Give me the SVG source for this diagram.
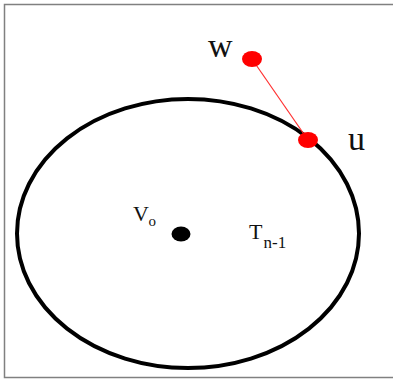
<svg xmlns="http://www.w3.org/2000/svg" width="393" height="379" viewBox="0 0 393 379">
<style>
.lbl{font-family:"Liberation Serif","Times New Roman",serif;fill:#111}
.red{fill:#ff0000}
</style>
<rect x="0" y="0" width="393" height="379" fill="#fff"/>
<rect x="4.5" y="4.5" width="392" height="373" fill="none" stroke="#808080" stroke-width="1.5"/>
<g id="tree">
<ellipse cx="188" cy="233.5" rx="171" ry="134.5" fill="none" stroke="#000" stroke-width="4"/>
<text class="lbl" x="249" y="239" font-size="22">T</text>
<text class="lbl" x="263.5" y="248" font-size="17">n-1</text>
</g>
<g id="connectors">
<line x1="252" y1="59" x2="308" y2="140" stroke="#ff3030" stroke-width="1.2"/>
</g>
<g id="v0">
<ellipse cx="181" cy="234" rx="9.5" ry="7.5" fill="#000"/>
<text class="lbl" x="133" y="221" font-size="22">V</text>
<text class="lbl" x="148.5" y="226" font-size="15">o</text>
</g>
<g id="w">
<ellipse class="red" cx="252" cy="59" rx="10" ry="8"/>
<text class="lbl" x="208" y="57" font-size="34">w</text>
</g>
<g id="u">
<ellipse class="red" cx="308" cy="140" rx="10" ry="8"/>
<text class="lbl" x="348" y="150" font-size="34">u</text>
</g>
</svg>
